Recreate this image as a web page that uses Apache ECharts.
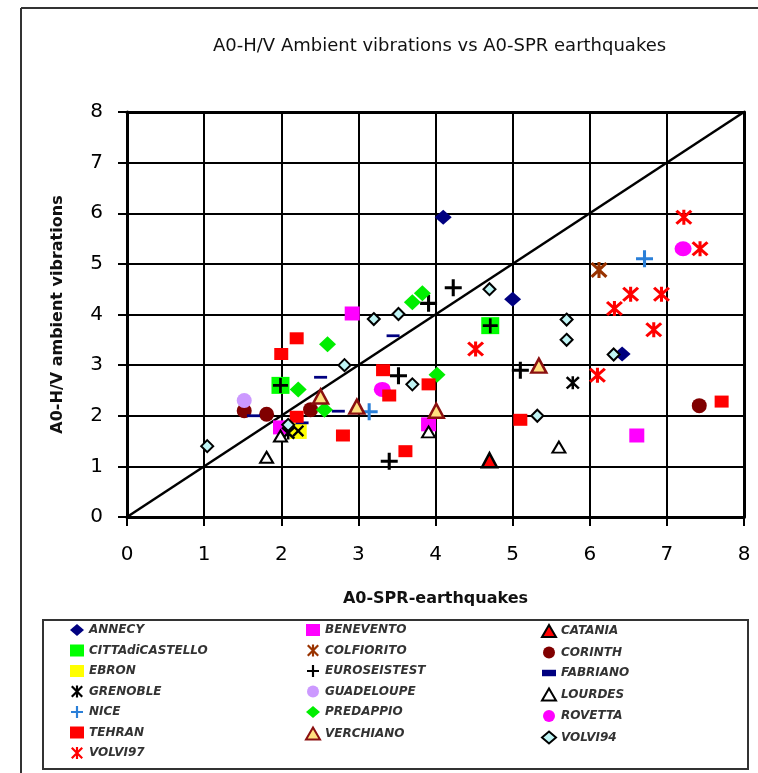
<!DOCTYPE html>
<html>
<head>
<meta charset="utf-8">
<script src="https://cdn.jsdelivr.net/npm/echarts@6/dist/echarts.min.js"></script>
<style>html,body{margin:0;padding:0;background:#fff}#c{width:758px;height:773px}</style>
</head>
<body>
<div id="c"></div>
<script>
// ---- data: [A0-SPR earthquakes, A0-H/V ambient vibrations] ----
const xTicks = [0,1,2,3,4,5,6,7,8];
const yTicks = [0,1,2,3,4,5,6,7,8];
const diagonal = [[0,0],[8,8]];
const ANNECY = [[4.1,5.92],[5.0,4.3],[6.42,3.22]];
const BENEVENTO = [[2.92,4.02],[1.99,1.77],[3.91,1.83],[6.61,1.61]];
const CATANIA = [[4.7,1.12]];
const CITTAdiCASTELLO = [[1.99,2.6],[4.71,3.78]];
const COLFIORITO = [[6.12,4.88]];
const CORINTH = [[1.52,2.1],[1.81,2.03],[2.38,2.12],[7.42,2.2]];
const EBRON = [[2.22,1.7]];
const EUROSEISTEST = [[3.91,4.22],[4.23,4.53],[5.1,2.9],[3.52,2.79],[3.4,1.1]];
const FABRIANO = [[1.64,2.0],[2.51,2.76],[2.74,2.09],[2.27,1.86],[3.45,3.58]];
const GRENOBLE = [[5.78,2.65],[2.09,1.66]];
const GUADELOUPE = [[1.52,2.3]];
const LOURDES = [[1.81,1.18],[1.99,1.6],[3.91,1.68],[5.6,1.38]];
const NICE = [[6.71,5.1],[3.14,2.08]];
const PREDAPPIO = [[2.6,3.41],[2.22,2.52],[2.56,2.12],[3.7,4.24],[3.83,4.42],[4.02,2.81]];
const ROVETTA = [[7.21,5.3],[3.31,2.52]];
const TEHRAN = [[2.2,3.53],[2.0,3.22],[2.2,1.98],[2.8,1.61],[3.32,2.9],[3.4,2.4],[3.91,2.62],[5.1,1.92],[3.61,1.3],[7.71,2.28]];
const VERCHIANO = [[2.51,2.38],[2.98,2.18],[4.01,2.1],[5.34,2.99]];
const VOLVI94 = [[1.04,1.4],[2.09,1.82],[2.82,3.0],[3.2,3.91],[3.52,4.01],[4.7,4.5],[3.7,2.62],[5.32,2.0],[5.7,3.9],[5.7,3.5],[6.31,3.21]];
const VOLVI97 = [[4.52,3.32],[6.1,2.8],[6.32,4.12],[6.53,4.4],[6.93,4.4],[6.83,3.7],[7.22,5.92],[7.43,5.3]];

const legendCol1 = ['ANNECY','CITTAdiCASTELLO','EBRON','GRENOBLE','NICE','TEHRAN','VOLVI97'];
const legendCol2 = ['BENEVENTO','COLFIORITO','EUROSEISTEST','GUADELOUPE','PREDAPPIO','VERCHIANO'];
const legendCol3 = ['CATANIA','CORINTH','FABRIANO','LOURDES','ROVETTA','VOLVI94'];

const PLUS = 'path://M4.1,0H5.9V4.1H10V5.9H5.9V10H4.1V5.9H0V4.1H4.1Z';
const STAR = 'path://M4.1,0H5.9V10H4.1Z M1.3,0L10,8.7L8.7,10L0,1.3Z M8.7,0L10,1.3L1.3,10L0,8.7Z';
const XMARK = 'path://M1.4,0L10,8.6L8.6,10L0,1.4Z M8.6,0L10,1.4L1.4,10L0,8.6Z';
const DASH = 'path://M0,0H13V6H0Z';

function sc(name, data, symbol, size, color, extra) {
  extra = extra || {};
  return Object.assign({
    name: name, type: 'scatter', data: data, symbol: symbol, symbolSize: size,
    itemStyle: Object.assign({color: color, opacity: 1}, extra.itemStyle || {}),
    z: extra.z || 3
  }, extra.rest || {});
}

const series = [
  {type:'line', data: diagonal, symbol:'none', silent:true, lineStyle:{color:'#000', width:2.5}, z:2, animation:false},
  sc('CITTAdiCASTELLO', CITTAdiCASTELLO, 'rect', [18,17], '#00ff00'),
  sc('CITTAdiCASTELLO', CITTAdiCASTELLO, PLUS, 15, '#000', {z:4}),
  sc('EBRON', EBRON, 'rect', [17,16], '#ffff00'),
  sc('EBRON', EBRON, XMARK, 12, '#000', {z:4}),
  sc('ANNECY', ANNECY, 'diamond', [17,15], '#000080'),
  sc('BENEVENTO', BENEVENTO, 'rect', [15,14], '#ff00ff'),
  sc('CATANIA', CATANIA, 'triangle', [15,14], '#ff0000', {itemStyle:{borderColor:'#000', borderWidth:2.5}}),
  sc('COLFIORITO', COLFIORITO, STAR, [17,16], '#993300'),
  sc('CORINTH', CORINTH, 'circle', 15, '#800000'),
  sc('EUROSEISTEST', EUROSEISTEST, PLUS, 17, '#000'),
  sc('FABRIANO', FABRIANO, DASH, [13,6], '#000080', {rest:{symbolKeepAspect:true}}),
  sc('GRENOBLE', GRENOBLE, STAR, [14,13], '#000'),
  sc('GUADELOUPE', GUADELOUPE, 'circle', 15, '#cc99ff'),
  sc('LOURDES', LOURDES, 'triangle', [13,11], '#ffffff', {itemStyle:{borderColor:'#000', borderWidth:2}}),
  sc('NICE', NICE, PLUS, 17, '#2a7fd8'),
  sc('PREDAPPIO', PREDAPPIO, 'diamond', [17,16], '#00ee00'),
  sc('ROVETTA', ROVETTA, 'circle', [17,15], '#ff00ff'),
  sc('TEHRAN', TEHRAN, 'rect', [14,12], '#ff0000'),
  sc('VERCHIANO', VERCHIANO, 'triangle', [15,14], '#ffe080', {itemStyle:{borderColor:'#8b1010', borderWidth:2.5}}),
  sc('VOLVI94', VOLVI94, 'diamond', [12,12], '#bff4f4', {itemStyle:{borderColor:'#000', borderWidth:2}}),
  sc('VOLVI97', VOLVI97, STAR, [17,15], '#ff0000')
];

const legendText = {fontFamily:'DejaVu Sans', fontWeight:'bold', fontStyle:'italic', fontSize:12, color:'#333'};
function leg(data, left) {
  return {data: data, orient:'vertical', left: left, top: 624, itemWidth: 14, itemHeight: 12,
          itemGap: 8.5, padding: 0, textStyle: legendText, selectedMode:false};
}

const axisCommon = {
  type:'value', min:0, max:8, interval:1,
  axisLine:{show:true, onZero:false, lineStyle:{color:'#000', width:3}},
  axisTick:{show:true, length:9, lineStyle:{color:'#000', width:2}},
  splitLine:{show:true, lineStyle:{color:'#000', width:2}},
  axisLabel:{fontFamily:'DejaVu Sans', fontSize:20, color:'#000'},
  nameLocation:'middle',
  nameTextStyle:{fontFamily:'DejaVu Sans', fontWeight:'bold', fontSize:16, color:'#111'}
};

const chart = echarts.init(document.getElementById('c'), null, {renderer:'canvas'});
chart.setOption({
  animation:false,
  backgroundColor:'#fff',
  title:{text:'A0-H/V Ambient vibrations vs A0-SPR earthquakes', left:208, top:32,
         textStyle:{fontFamily:'DejaVu Sans', fontWeight:'normal', fontSize:18, color:'#111'}},
  grid:{left:127, right:14, top:112, bottom:256},
  xAxis:[
    Object.assign({}, axisCommon, {name:'A0-SPR-earthquakes', nameGap:74,
      axisLabel:Object.assign({}, axisCommon.axisLabel, {margin:28, formatter:(v)=> xTicks.includes(v)? String(v):''})}),
    {type:'value', min:0, max:8, position:'top', axisLine:{show:true, onZero:false, lineStyle:{color:'#000', width:3}},
     axisTick:{show:false}, axisLabel:{show:false}, splitLine:{show:false}}
  ],
  yAxis:[
    Object.assign({}, axisCommon, {name:'A0-H/V ambient vibrations', nameGap:61,
      axisLabel:Object.assign({}, axisCommon.axisLabel, {margin:24, formatter:(v)=> yTicks.includes(v)? String(v):''})}),
    {type:'value', min:0, max:8, position:'right', axisLine:{show:true, onZero:false, lineStyle:{color:'#000', width:3}},
     axisTick:{show:false}, axisLabel:{show:false}, splitLine:{show:false}}
  ],
  legend:[leg(legendCol1, 70), leg(legendCol2, 305), leg(legendCol3, 541)],
  graphic:[
    {type:'line', shape:{x1:21, y1:8, x2:758, y2:8}, style:{stroke:'#333', lineWidth:2}},
    {type:'line', shape:{x1:21, y1:8, x2:21, y2:773}, style:{stroke:'#333', lineWidth:2}},
    {type:'rect', shape:{x:43, y:620, width:705, height:149}, style:{fill:'none', stroke:'#333', lineWidth:2}}
  ],
  series: series
});
</script>
</body>
</html>
